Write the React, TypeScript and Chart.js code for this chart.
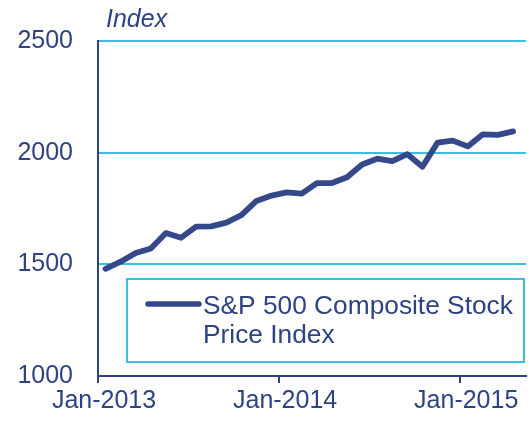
import React, { useEffect, useRef } from "react";
import { Chart, registerables } from "chart.js";

Chart.register(...registerables);

const months: string[] = [
  "Jan-2013", "Feb-2013", "Mar-2013", "Apr-2013", "May-2013", "Jun-2013",
  "Jul-2013", "Aug-2013", "Sep-2013", "Oct-2013", "Nov-2013", "Dec-2013",
  "Jan-2014", "Feb-2014", "Mar-2014", "Apr-2014", "May-2014", "Jun-2014",
  "Jul-2014", "Aug-2014", "Sep-2014", "Oct-2014", "Nov-2014", "Dec-2014",
  "Jan-2015", "Feb-2015", "Mar-2015", "Apr-2015",
];
const spValues: number[] = [
  1480, 1512, 1551, 1571, 1640, 1619, 1669, 1670, 1687, 1720, 1784, 1808,
  1822, 1817, 1864, 1864, 1890, 1947, 1973, 1962, 1993, 1937, 2045, 2054,
  2028, 2082, 2080, 2095,
];
const yTicks: number[] = [1000, 1500, 2000, 2500];
const xTickLabels: string[] = ["Jan-2013", "Jan-2014", "Jan-2015"];
const seriesName = ["S&P 500 Composite Stock", "Price Index"];
const yUnit = "Index";

const NAVY = "#2F4283";
const LINE = "#34488A";
const CYAN = "#3CBEDF";
const FONT = "'Liberation Sans', Arial, sans-serif";

export default function App() {
  const ref = useRef<HTMLCanvasElement>(null);
  useEffect(() => {
    if (!ref.current) return;
    const overlay = {
      id: "overlay",
      afterDraw(chart: any) {
        const ctx = chart.ctx;
        ctx.save();
        // unit label
        ctx.fillStyle = NAVY;
        ctx.font = `italic 25px ${FONT}`;
        ctx.textBaseline = "alphabetic";
        ctx.textAlign = "left";
        ctx.fillText(yUnit, 106, 27);
        // legend box
        const bx = 127, by = 279, bw = 397, bh = 83;
        ctx.fillStyle = "#ffffff";
        ctx.fillRect(bx, by, bw, bh);
        ctx.strokeStyle = CYAN;
        ctx.lineWidth = 2;
        ctx.strokeRect(bx, by, bw, bh);
        ctx.strokeStyle = LINE;
        ctx.lineWidth = 5.5;
        ctx.lineCap = "round";
        ctx.beginPath();
        ctx.moveTo(148, 304);
        ctx.lineTo(199, 304);
        ctx.stroke();
        ctx.fillStyle = NAVY;
        ctx.font = `26.3px ${FONT}`;
        ctx.fillText(seriesName[0], 203, 314);
        ctx.fillText(seriesName[1], 203, 343);
        ctx.restore();
      },
    };
    const chart = new Chart(ref.current, {
      type: "line",
      data: {
        datasets: [
          {
            label: seriesName.join(" "),
            data: spValues.map((v, i) => ({ x: i, y: v })),
            borderColor: LINE,
            borderWidth: 5.8,
            borderCapStyle: "round",
            borderJoinStyle: "round",
            pointRadius: 0,
            tension: 0,
            fill: false,
          },
        ],
      },
      options: {
        animation: false,
        responsive: false,
        layout: { padding: { top: 41, right: 2, left: 0, bottom: 0 } },
        plugins: { legend: { display: false }, tooltip: { enabled: false } },
        scales: {
          x: {
            type: "linear",
            min: -0.5,
            max: 27.86,
            afterBuildTicks: (scale: any) => {
              scale.ticks = [{ value: -0.5 }, { value: 11.5 }, { value: 23.5 }];
            },
            afterFit: (scale: any) => {
              scale.height = 45;
            },
            grid: {
              drawOnChartArea: false,
              drawTicks: true,
              tickLength: 7,
              color: NAVY,
              lineWidth: 2,
            },
            border: { display: true, color: NAVY, width: 2 },
            ticks: {
              autoSkip: false,
              maxRotation: 0,
              padding: 3,
              labelOffset: 6,
              color: NAVY,
              font: { family: FONT, size: 25 },
              callback: (_v: any, i: number) => xTickLabels[i],
            },
          },
          y: {
            type: "linear",
            min: yTicks[0],
            max: yTicks[yTicks.length - 1],
            afterBuildTicks: (scale: any) => {
              scale.ticks = yTicks.map((v) => ({ value: v }));
            },
            afterFit: (scale: any) => {
              scale.width = 98;
            },
            grid: {
              drawTicks: false,
              color: (c: any) => (c.tick && c.tick.value === 1000 ? "rgba(0,0,0,0)" : CYAN),
              lineWidth: 2,
            },
            border: { display: true, color: NAVY, width: 2 },
            ticks: {
              padding: 25,
              color: NAVY,
              font: { family: FONT, size: 25 },
              callback: (v: any) => String(v),
            },
          },
        },
      },
      plugins: [overlay],
    } as any);
    return () => chart.destroy();
  }, []);
  return (
    <div style={{ position: "fixed", left: 0, top: 0, width: 528, height: 421, background: "#fff" }}>
      <canvas ref={ref} width={528} height={421} style={{ display: "block" }} />
    </div>
  );
}
